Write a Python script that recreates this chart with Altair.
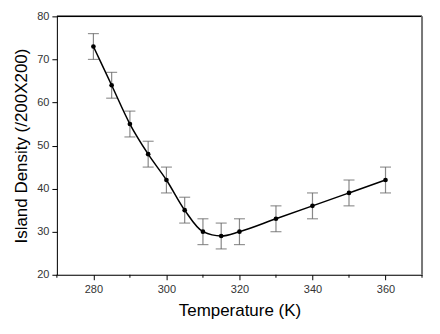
import altair as alt
import pandas as pd

temps = [280, 285, 290, 295, 300, 305, 310, 315, 320, 330, 340, 350, 360]
density = [73, 64, 55, 48, 42, 35, 30, 29, 30, 33, 36, 39, 42]
err = [3, 3, 3, 3, 3, 3, 3, 3, 3, 3, 3, 3, 3]
x_major = [280, 300, 320, 340, 360]
x_minor = [270, 290, 310, 330, 350, 370]

df = pd.DataFrame({"T": temps, "D": density, "E": err})
df["lo"] = df["D"] - df["E"]
df["hi"] = df["D"] + df["E"]

font = "Liberation Sans"

x = alt.X("T:Q", scale=alt.Scale(domain=[270, 370], nice=False, zero=False),
          axis=alt.Axis(title="Temperature (K)", values=x_major,
                        tickSize=5, labelOverlap=False, labelFlush=False,
                        grid=False, domainColor="black", tickColor="black",
                        labelFont=font, labelFontSize=11, labelColor="#333333",
                        titleFont=font, titleFontSize=17, titleFontWeight="normal",
                        titleColor="black", titlePadding=8, labelPadding=4))
y_scale = alt.Scale(domain=[20, 80], nice=False, zero=False)
y_axis = alt.Axis(title="Island Density (/200X200)", values=list(range(20, 81, 5)),
                  labelExpr="datum.value % 10 === 0 ? datum.label : ''",
                  tickSize={"condition": {"test": "datum.value % 10 === 0", "value": 5}, "value": 3},
                  labelOverlap=False, labelFlush=False,
                  grid=False, domainColor="black", tickColor="black",
                  labelFont=font, labelFontSize=11, labelColor="#333333",
                  titleFont=font, titleFontSize=17, titleFontWeight="normal",
                  titleColor="black", titlePadding=6, labelPadding=3)

base = alt.Chart(df)

bars = base.mark_rule(color="#888888", strokeWidth=1.2).encode(
    x=x, y=alt.Y("lo:Q", scale=y_scale, axis=y_axis), y2="hi:Q")
cap_lo = base.mark_tick(color="#666666", size=11, thickness=1.2, orient="horizontal").encode(
    x="T:Q", y="lo:Q")
cap_hi = base.mark_tick(color="#666666", size=11, thickness=1.2, orient="horizontal").encode(
    x="T:Q", y="hi:Q")
line = base.mark_line(color="black", strokeWidth=1.5, interpolate="monotone").encode(
    x="T:Q", y="D:Q")
pts = base.mark_point(filled=True, color="black", size=22, opacity=1).encode(
    x="T:Q", y="D:Q")

minor = alt.Chart(pd.DataFrame({"T": x_minor})).mark_rule(color="black", strokeWidth=1).encode(
    x="T:Q", y=alt.value(259), y2=alt.value(262))

frame_top = alt.Chart(pd.DataFrame({"a": [0]})).mark_rule(color="black", strokeWidth=1.5).encode(
    x=alt.value(0), x2=alt.value(366), y=alt.value(0))
frame_right = alt.Chart(pd.DataFrame({"a": [0]})).mark_rule(color="#777777", strokeWidth=2).encode(
    x=alt.value(366), y=alt.value(0), y2=alt.value(259))

chart = alt.layer(bars, cap_lo, cap_hi, line, pts, minor, frame_top, frame_right).properties(
    width=366, height=259,
    autosize=alt.AutoSizeParams(type="none"),
    padding={"left": 49, "top": 8, "right": 10, "bottom": 60},
).configure_view(stroke=None, clip=False).configure(background="white")

chart.save("out.html", embed_options={"renderer": "svg", "actions": False})
